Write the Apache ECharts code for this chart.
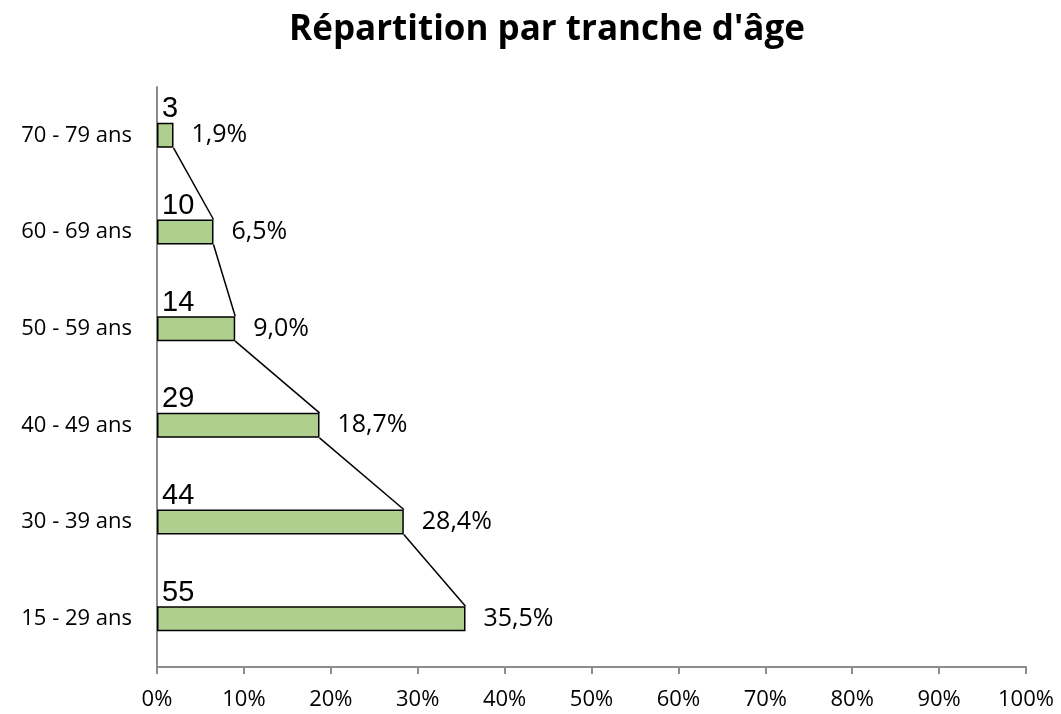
<!DOCTYPE html>
<html>
<head>
<meta charset="utf-8">
<script src="https://cdn.jsdelivr.net/npm/echarts@6/dist/echarts.min.js"></script>
<style>
  html, body { margin: 0; padding: 0; background: #fff; }
  #main { width: 1061px; height: 714px; }
</style>
</head>
<body>
<div id="main"></div>
<script>
// tranches d'âge, du bas vers le haut
var tranches = ['15 - 29 ans', '30 - 39 ans', '40 - 49 ans', '50 - 59 ans', '60 - 69 ans', '70 - 79 ans'];
var effectifs = [55, 44, 29, 14, 10, 3];
var pourcents = [35.5, 28.4, 18.7, 9.0, 6.5, 1.9];
var graduations = [0, 10, 20, 30, 40, 50, 60, 70, 80, 90, 100];

var hauteurBarre = 25;

// segments reliant le bout de chaque barre à la suivante
var liens = [];
for (var i = 0; i < pourcents.length - 1; i++) {
    liens.push([pourcents[i], i, pourcents[i + 1], i + 1]);
}

var myChart = echarts.init(document.getElementById('main'));

var option = {
    backgroundColor: '#fff',
    animation: false,
    title: {
        text: "Répartition par tranche d'âge",
        left: 542,
        top: 8,
        textAlign: 'center',
        textStyle: {
            fontFamily: 'Open Sans',
            fontWeight: 'bold',
            fontSize: 35,
            color: '#000'
        }
    },
    grid: {
        left: 157,
        right: 35,
        top: 87,
        bottom: 47
    },
    xAxis: {
        type: 'value',
        min: graduations[0],
        max: graduations[graduations.length - 1],
        interval: 10,
        axisLine: { show: true, lineStyle: { color: '#8c8c8c', width: 2 } },
        axisTick: { show: true, length: 7, lineStyle: { color: '#8c8c8c', width: 2 } },
        splitLine: { show: false },
        axisLabel: {
            margin: 22,
            color: '#000',
            fontFamily: 'Open Sans',
            fontSize: 22,
            formatter: '{value}%'
        }
    },
    yAxis: {
        type: 'category',
        data: tranches,
        axisLine: { show: true, lineStyle: { color: '#8c8c8c', width: 2 } },
        axisTick: { show: false },
        axisLabel: {
            margin: 25,
            color: '#000',
            fontFamily: 'Open Sans',
            fontSize: 22
        }
    },
    series: [
        {
            name: 'Pourcentage',
            type: 'bar',
            data: pourcents,
            barWidth: hauteurBarre,
            itemStyle: {
                color: '#afcf8f',
                borderColor: '#000',
                borderWidth: 1.5
            },
            label: {
                show: true,
                position: 'right',
                distance: 18,
                color: '#000',
                fontFamily: 'Open Sans',
                fontSize: 25,
                formatter: function (p) {
                    return p.value.toFixed(1).replace('.', ',') + '%';
                }
            },
            z: 2
        },
        {
            name: 'Effectif',
            type: 'bar',
            data: pourcents,
            barWidth: hauteurBarre,
            barGap: '-100%',
            itemStyle: { color: 'rgba(0,0,0,0)' },
            label: {
                show: true,
                position: [5, 1],
                verticalAlign: 'bottom',
                align: 'left',
                color: '#000',
                fontFamily: 'Liberation Sans',
                fontSize: 29,
                formatter: function (p) {
                    return effectifs[p.dataIndex];
                }
            },
            silent: true,
            z: 3
        },
        {
            name: 'Liens',
            type: 'custom',
            data: liens,
            renderItem: function (params, api) {
                var bas = api.coord([api.value(0), api.value(1)]);
                var haut = api.coord([api.value(2), api.value(3)]);
                return {
                    type: 'line',
                    shape: {
                        x1: haut[0], y1: haut[1] + hauteurBarre / 2,
                        x2: bas[0], y2: bas[1] - hauteurBarre / 2
                    },
                    style: { stroke: '#000', lineWidth: 1.5 }
                };
            },
            z: 4
        }
    ]
};

myChart.setOption(option);
</script>
</body>
</html>
